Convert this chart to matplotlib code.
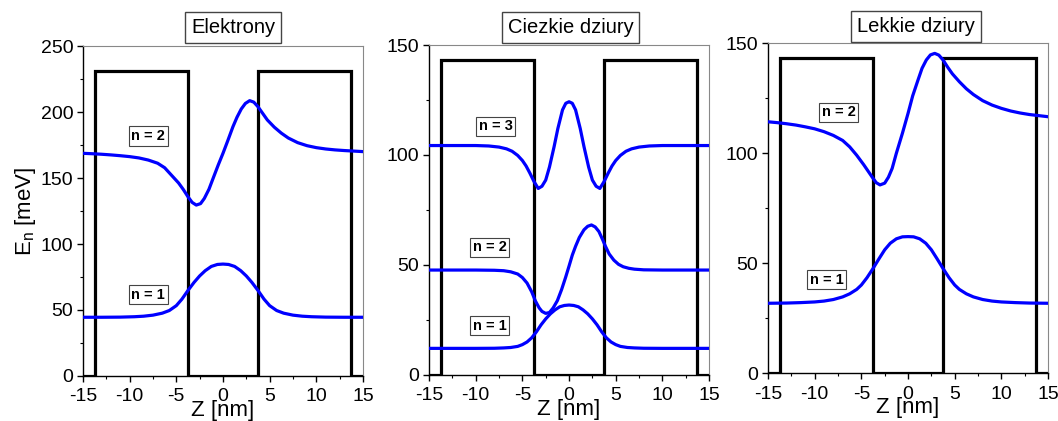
import numpy as np
import matplotlib.pyplot as plt
from matplotlib.ticker import MultipleLocator

plt.rcParams['font.family'] = ['Liberation Sans', 'DejaVu Sans']
plt.rcParams['axes.unicode_minus'] = False

# potential profile (double barrier), nm and meV
z_well = 3.75
z_outer = 13.75
v_elek = 231
v_ciez = 143
v_lekk = 143

# Elektrony
z_e1 = [-15, -13, -11, -9.5, -8.5, -7.5, -6.5, -5.75, -5, -4.4, -3.75, -3.1, -2.5, -1.9, -1.25, -0.6, 0,
        0.6, 1.25, 1.9, 2.5, 3.1, 3.75, 4.4, 5, 5.75, 6.5, 7.5, 8.5, 9.5, 11, 13, 15]
e1 = [44.5, 44.5, 44.6, 44.9, 45.3, 46.1, 47.6, 49.6, 53.3, 58.2, 64.8, 70.9, 75.8, 79.8, 83.0, 84.5, 84.8,
      84.5, 83.0, 79.8, 75.8, 70.9, 64.8, 58.2, 53.3, 49.6, 47.6, 46.1, 45.3, 44.9, 44.6, 44.5, 44.5]
z_e2 = [-15, -14, -13, -12, -11, -10, -9, -8, -7, -6.25, -5.5, -4.75, -4.25, -3.75, -3.3, -2.86, -2.4,
        -2.0, -1.5, -1.07, -0.5, 0, 0.5, 1.07, 1.5, 1.96, 2.4, 2.86, 3.3, 3.75, 4.25, 4.75, 5.5, 6.25,
        7, 8, 9, 10, 11, 12, 13, 14, 15]
e2 = [168.7, 168.4, 168.0, 167.5, 166.9, 166.2, 165.2, 163.6, 161.2, 157.8, 152.0, 146.2, 141.3, 135.8,
      131.5, 129.5, 130.6, 134.5, 141.5, 149.5, 160.0, 168.7, 178.0, 188.9, 196.0, 202.3, 206.5, 208.6,
      207.5, 204.0, 199.0, 194.0, 188.5, 184.0, 180.3, 176.8, 174.5, 173.0, 172.0, 171.3, 170.8, 170.4, 170.0]

# Ciezkie dziury
z_h1 = [-15, -10, -8, -7, -6.25, -5.5, -5, -4.5, -4, -3.5, -3, -2.5, -2, -1.5, -1, -0.5, 0,
        0.5, 1, 1.5, 2, 2.5, 3, 3.5, 4, 4.5, 5, 5.5, 6.25, 7, 8, 10, 15]
h1 = [12.1, 12.1, 12.15, 12.3, 12.5, 13.0, 13.8, 15.0, 16.9, 19.6, 22.8, 25.5, 27.8, 29.6, 31.0, 31.6, 31.8,
      31.6, 31.0, 29.6, 27.8, 25.5, 22.8, 19.6, 16.9, 15.0, 13.8, 13.0, 12.5, 12.3, 12.15, 12.1, 12.1]
z_h2 = [-15, -10, -8, -7, -6.25, -5.5, -5, -4.5, -4, -3.6, -3.2, -2.9, -2.5, -2.1, -1.7, -1.25, -0.8,
        -0.36, 0, 0.35, 0.7, 1.1, 1.6, 2.0, 2.4, 2.8, 3.2, 3.6, 3.9, 4.3, 4.8, 5.3, 5.8, 6.4, 7, 8, 10, 15]
h2 = [47.7, 47.7, 47.6, 47.4, 46.9, 45.9, 44.3, 41.8, 37.8, 33.6, 30.5, 28.9, 28.0, 28.4, 30.5, 33.8, 38.8,
      44.5, 49.5, 54.5, 58.5, 62.5, 66.0, 67.6, 68.2, 67.3, 65.2, 61.5, 58.5, 55.0, 52.2, 50.3, 49.2, 48.5,
      48.1, 47.8, 47.7, 47.7]
z_h3 = [-15, -10, -8.6, -7.5, -6.7, -6.1, -5.5, -5, -4.6, -4.2, -3.75, -3.3, -2.9, -2.5, -2.1, -1.6, -1.2,
        -0.7, -0.35, 0, 0.35, 0.7, 1.2, 1.6, 2.1, 2.5, 2.9, 3.3, 3.75, 4.2, 4.6, 5, 5.5, 6.1, 6.7, 7.5, 8.6,
        10, 15]
h3 = [104.3, 104.3, 104.1, 103.6, 102.8, 101.7, 99.8, 97.5, 95.0, 91.8, 87.9, 84.8, 85.8, 88.6, 94.5,
      103.8, 112.0, 120.5, 123.5, 124.2, 123.5, 120.5, 112.0, 103.8, 94.5, 88.6, 85.8, 84.8, 87.9, 91.8,
      95.0, 97.5, 99.8, 101.7, 102.8, 103.6, 104.1, 104.3, 104.3]

# Lekkie dziury
z_l1 = [-15, -13, -11.5, -10, -9, -8, -7, -6.25, -5.5, -5, -4.4, -3.75, -3.1, -2.5, -1.9, -1.25, -0.6, 0,
        0.6, 1.25, 1.9, 2.5, 3.1, 3.75, 4.4, 5, 5.5, 6.25, 7, 8, 9, 10, 11.5, 13, 15]
l1 = [31.7, 31.8, 32.0, 32.3, 32.7, 33.4, 34.6, 36.0, 38.0, 40.0, 43.3, 47.5, 52.0, 56.0, 59.0, 61.0, 61.9,
      62.0, 61.9, 61.0, 59.0, 56.0, 52.0, 47.5, 43.3, 40.0, 38.0, 36.0, 34.6, 33.4, 32.7, 32.3, 32.0, 31.8,
      31.7]
z_l2 = [-15, -14, -13, -12, -11, -10, -9, -8, -7, -6.25, -5.5, -4.75, -4.25, -3.75, -3.4, -3.0, -2.5,
        -2.1, -1.7, -1.25, -0.6, 0, 0.5, 1.07, 1.5, 1.96, 2.4, 2.86, 3.3, 3.75, 4.25, 4.75, 5.5, 6.25, 7,
        8, 9, 10, 11, 12, 13, 14, 15]
l2 = [114.2, 113.8, 113.3, 112.7, 111.9, 111.0, 109.7, 108.0, 105.7, 102.8, 99.0, 94.7, 91.6, 88.5, 86.5,
      85.5, 86.3, 89.0, 93.0, 99.9, 109.0, 118.0, 126.0, 133.2, 138.5, 142.3, 144.6, 145.3, 144.5, 142.3,
      139.0, 136.0, 132.4, 129.2, 126.6, 123.8, 121.8, 120.3, 119.1, 118.2, 117.5, 117.0, 116.5]

panels = [
    ('Elektrony', v_elek, 250, [(z_e1, e1), (z_e2, e2)],
     [('n = 1', -8.0, 61.7), ('n = 2', -8.0, 181.8)]),
    ('Ciezkie dziury', v_ciez, 150, [(z_h1, h1), (z_h2, h2), (z_h3, h3)],
     [('n = 1', -8.5, 22.4), ('n = 2', -8.5, 58.0), ('n = 3', -7.85, 113.0)]),
    ('Lekkie dziury', v_lekk, 150, [(z_l1, l1), (z_l2, l2)],
     [('n = 1', -8.7, 42.5), ('n = 2', -7.45, 118.5)]),
]
rects = [[0.0784, 0.1069, 0.2647, 0.7838],
         [0.4055, 0.1093, 0.2647, 0.7838],
         [0.7259, 0.1140, 0.2647, 0.7838]]
title_pos = [(0.536, 1.056), (0.505, 1.053), (0.529, 1.051)]

fig = plt.figure(figsize=(10.58, 4.21), dpi=100)

for i, (title, v0, ymax, curves, labels) in enumerate(panels):
    ax = fig.add_axes(rects[i])
    pot_z = [-15, -z_outer, -z_outer, -z_well, -z_well, z_well, z_well, z_outer, z_outer, 15]
    pot_v = [0, 0, v0, v0, 0, 0, v0, v0, 0, 0]
    ax.plot(pot_z, pot_v, color='black', lw=2.3, solid_joinstyle='miter', zorder=2)
    for z, e in curves:
        ax.plot(z, e, color='#0000ff', lw=2.3, zorder=3)
    for txt, x, y in labels:
        ax.text(x, y, txt, fontsize=10.5, fontweight='bold', ha='center', va='center',
                bbox=dict(boxstyle='square,pad=0.18', fc='white', ec='#444444', lw=0.8), zorder=4)

    ax.set_xlim(-15, 15)
    ax.set_ylim(0, ymax)
    ax.xaxis.set_major_locator(MultipleLocator(5))
    ax.xaxis.set_minor_locator(MultipleLocator(2.5))
    ax.yaxis.set_major_locator(MultipleLocator(50))
    ax.yaxis.set_minor_locator(MultipleLocator(25))
    ax.tick_params(which='major', direction='out', length=4, width=1, labelsize=14, pad=3)
    ax.tick_params(axis='x', which='major', pad=5)
    ax.tick_params(which='minor', direction='out', length=2.5, width=0.8)
    ax.tick_params(top=False, right=False)
    for s in ['top', 'right']:
        ax.spines[s].set_color('#888888')
        ax.spines[s].set_linewidth(0.8)
    for s in ['left', 'bottom']:
        ax.spines[s].set_linewidth(1.0)

    ax.set_xlabel('Z [nm]', fontsize=16, labelpad=-4)
    if i == 0:
        ax.set_ylabel(r'E$_\mathregular{n}$ [meV]', fontsize=16, labelpad=2)

    tx, ty = title_pos[i]
    ax.text(tx, ty, title, transform=ax.transAxes, fontsize=14.5, ha='center', va='center',
            bbox=dict(boxstyle='square,pad=0.3', fc='white', ec='#444444', lw=1.0))

fig.savefig('out.png', dpi=100)
